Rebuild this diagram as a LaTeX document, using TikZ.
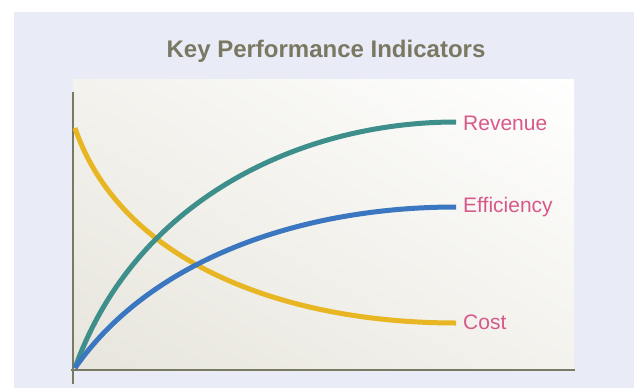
\documentclass[tikz,border=0pt]{standalone}
\usepackage{fontspec}
\setmainfont{Liberation Sans}
\usetikzlibrary{shadings}
\definecolor{bgcol}{RGB}{233,236,246}
\definecolor{plotlow}{RGB}{231,229,220}
\definecolor{plotmid}{RGB}{243,242,237}
\definecolor{axiscol}{RGB}{122,122,100}
\definecolor{titlecol}{RGB}{122,120,98}
\definecolor{tealc}{RGB}{62,143,140}
\definecolor{bluec}{RGB}{58,119,192}
\definecolor{yellowc}{RGB}{232,181,35}
\definecolor{pinkc}{RGB}{216,88,138}
\tikzset{
  curve/.style={line width=5pt, line cap=butt},
  axisline/.style={draw=axiscol, line width=2pt},
  lbl/.style={anchor=base west, inner sep=0pt, text=pinkc, font=\fontsize{21}{25}\selectfont},
  ttl/.style={anchor=base, inner sep=0pt, text=titlecol, font=\bfseries\fontsize{24}{28}\selectfont}
}
\begin{document}
\begin{tikzpicture}[x=1pt,y=-1pt]
\useasboundingbox (0,0) rectangle (634,388);
\fill[bgcol] (14,12) rectangle (634,388);
\shade[lower left=plotlow, upper right=white, upper left=plotmid, lower right=plotmid] (73,370) rectangle (574,79);
\node[ttl] (title) at (326,57) {Key Performance Indicators};
% axes
\coordinate (ytop) at (73,92);
\coordinate (ybot) at (73,384);
\coordinate (xl) at (71,370);
\coordinate (xr) at (575,370);
\draw[axisline] (ybot) -- (ytop);
\draw[axisline] (xl) -- (xr);
% curves
\coordinate (o) at (75,368);
\coordinate (revend) at (456,122);
\coordinate (effend) at (456,207);
\coordinate (coststart) at (75,128);
\coordinate (costend) at (456,323);
\draw[curve, yellowc] (coststart) .. controls (120,260) and (280,323) .. (costend);
\draw[curve, tealc] (o) .. controls (135,200) and (300,122) .. (revend);
\draw[curve, bluec] (o) .. controls (150,260) and (300,207) .. (effend);
% labels
\node[lbl] (rev) at (463,130) {Revenue};
\node[lbl] (eff) at (463,212) {Efficiency};
\node[lbl] (cost) at (463,329) {Cost};
\end{tikzpicture}
\end{document}
